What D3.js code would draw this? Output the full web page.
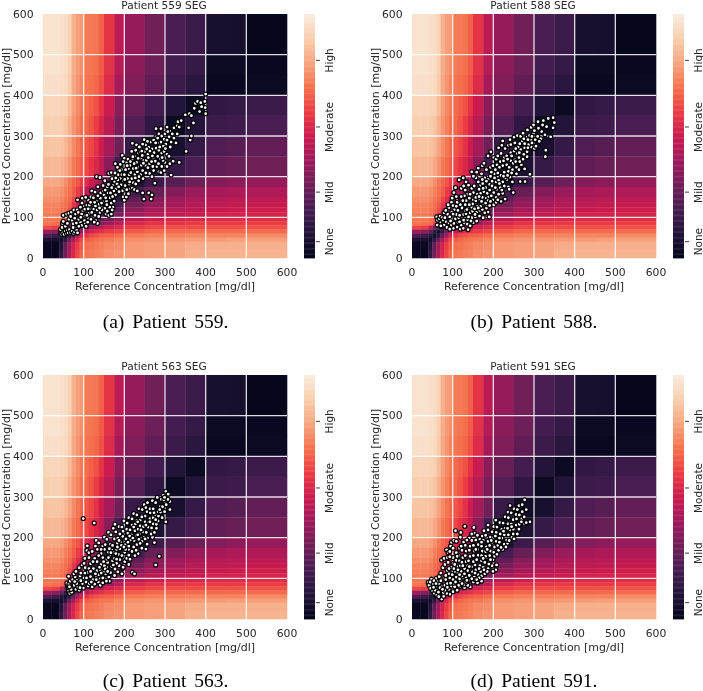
<!DOCTYPE html>
<html><head><meta charset="utf-8">
<script src="https://cdnjs.cloudflare.com/ajax/libs/d3/7.8.5/d3.min.js"></script>
<style>html,body{margin:0;padding:0;background:#fff}svg{display:block;filter:blur(.35px)}
text{font-family:"DejaVu Sans";fill:#262626}</style></head><body>
<svg id="c" width="703" height="691"></svg>
<script>
const edges=[0,20,40,50,60,70,80,90,100,112.5,125,137.5,150,175,200,250,300,350,400,450,500,600];
const risk=[ // rows top (500-600) to bottom (0-20)
[.97,.97,.96,.95,.92,.83,.79,.78,.72,.72,.71,.67,.58,.47,.38,.30,.21,.17,.07,.06,.01],
[.97,.97,.96,.95,.91,.82,.78,.76,.72,.71,.70,.66,.57,.45,.36,.29,.19,.15,.03,.03,.02],
[.96,.96,.95,.94,.90,.81,.77,.74,.71,.70,.68,.64,.55,.42,.33,.26,.17,.12,.02,.02,.03],
[.93,.93,.92,.91,.86,.79,.75,.72,.69,.67,.64,.58,.50,.36,.28,.19,.10,.03,.14,.15,.17],
[.91,.91,.90,.88,.83,.77,.73,.70,.68,.65,.60,.54,.46,.32,.23,.14,.03,.10,.17,.18,.21],
[.88,.88,.87,.85,.80,.75,.71,.68,.65,.62,.57,.50,.42,.30,.16,.05,.07,.15,.22,.24,.27],
[.85,.85,.84,.81,.77,.72,.69,.66,.62,.58,.54,.48,.36,.20,.05,.08,.15,.21,.26,.28,.30],
[.81,.81,.79,.76,.72,.68,.65,.60,.55,.50,.45,.38,.26,.08,.08,.17,.24,.29,.34,.36,.38],
[.78,.78,.76,.73,.70,.66,.60,.55,.48,.42,.35,.28,.10,.09,.20,.28,.34,.39,.42,.43,.44],
[.76,.76,.74,.71,.68,.62,.55,.48,.40,.30,.20,.10,.09,.14,.27,.35,.40,.43,.45,.46,.47],
[.74,.74,.72,.70,.66,.58,.50,.42,.30,.20,.10,.10,.13,.20,.31,.38,.42,.45,.47,.48,.49],
[.73,.73,.71,.69,.63,.54,.44,.34,.20,.10,.10,.14,.18,.26,.36,.42,.45,.47,.49,.50,.51],
[.72,.72,.70,.67,.60,.48,.36,.20,.10,.10,.15,.19,.24,.32,.42,.46,.48,.50,.52,.52,.53],
[.71,.71,.69,.66,.56,.40,.25,.09,.10,.15,.20,.25,.30,.38,.47,.51,.53,.54,.55,.55,.56],
[.71,.70,.68,.62,.50,.28,.09,.12,.18,.25,.30,.34,.40,.47,.54,.57,.58,.59,.59,.59,.60],
[.62,.60,.50,.35,.22,.08,.13,.24,.33,.39,.44,.47,.52,.55,.60,.62,.63,.63,.64,.64,.64],
[.40,.36,.25,.14,.06,.14,.29,.40,.47,.52,.55,.57,.60,.62,.66,.68,.68,.69,.69,.69,.69],
[.22,.18,.11,.05,.12,.27,.42,.52,.58,.62,.64,.66,.67,.69,.72,.73,.73,.74,.74,.74,.75],
[.08,.07,.05,.12,.28,.42,.54,.62,.66,.68,.70,.71,.72,.74,.76,.77,.77,.78,.78,.79,.79],
[.02,.02,.10,.27,.42,.52,.60,.66,.70,.71,.72,.73,.75,.76,.78,.79,.80,.82,.83,.83,.83],
[.02,.02,.13,.30,.44,.54,.62,.68,.71,.72,.73,.74,.76,.77,.78,.79,.80,.83,.84,.84,.84]];
const rocketStops=["#03051a","#23153a","#461d52","#711f57","#9e1a5b","#cb1b4f","#ec3c43","#f4704c","#f6a47f","#f8cdac","#faebdd"];
const ticks600=[0,100,200,300,400,500,600];
const barTicks=[0.067,0.27,0.537,0.81];
const barLabels=["None","Mild","Moderate","High"];
const titles=["Patient 559 SEG","Patient 588 SEG","Patient 563 SEG","Patient 591 SEG"];
const captions=["(a) Patient 559.","(b) Patient 588.","(c) Patient 563.","(d) Patient 591."];
const xLabel="Reference Concentration [mg/dl]", yLabel="Predicted Concentration [mg/dl]";

const pointsA=[[45,65],[44,60],[43,70],[47,75],[48,85],[50,90],[46,58],[49,62],[52,58],[55,66],[58,60],[60,68],[62,62],[65,70],[68,63],[72,66],[75,60],[78,64],[80,72],[83,68],[85,62],[50,105],[58,108],[64,110],[70,113],[76,118],[55,78],[60,85],[64,95],[68,102],[72,92],[74,84],[78,98],[80,108],[84,118],[87,112],[90,98],[92,88],[95,80],[88,78],[85,143],[92,125],[96,135],[98,115],[100,105],[102,92],[104,84],[106,78],[110,88],[112,98],[114,110],[116,122],[108,130],[112,142],[118,150],[122,135],[125,120],[128,105],[130,92],[134,85],[137,102],[140,112],[143,125],[146,140],[120,165],[128,162],[132,200],[140,198],[135,175],[142,160],[148,150],[150,138],[152,122],[155,108],[158,115],[162,105],[168,108],[148,178],[152,190],[158,175],[160,160],[165,148],[168,135],[172,125],[175,140],[178,155],[180,170],[176,188],[170,195],[162,208],[168,210],[178,232],[185,205],[190,195],[192,180],[195,165],[197,150],[200,142],[205,150],[210,158],[215,170],[220,172],[225,168],[232,165],[245,160],[248,145],[260,160],[268,155],[266,145],[185,215],[190,230],[195,252],[200,245],[205,235],[210,220],[212,205],[218,195],[222,185],[228,182],[235,190],[240,205],[245,215],[238,225],[230,235],[225,250],[218,262],[220,282],[230,278],[228,265],[235,258],[240,245],[248,240],[252,228],[258,222],[262,208],[268,200],[275,184],[272,215],[280,225],[285,212],[290,210],[298,215],[305,225],[315,204],[312,232],[320,238],[335,235],[300,235],[295,240],[288,245],[282,250],[275,258],[268,268],[260,272],[252,278],[245,280],[240,270],[250,262],[258,255],[265,248],[272,242],[278,270],[285,265],[292,258],[298,262],[305,255],[310,250],[278,298],[285,305],[290,318],[278,318],[292,300],[298,292],[302,280],[296,275],[288,282],[305,322],[312,312],[318,305],[322,320],[330,325],[332,335],[340,338],[350,352],[360,355],[352,262],[362,290],[365,300],[358,320],[370,332],[365,350],[315,285],[322,295],[330,305],[335,322],[310,298],[300,305],[372,368],[375,380],[380,385],[388,382],[398,385],[400,403],[399,370],[400,355],[385,360],[390,372],[124,148],[131,140],[138,132],[145,118],[103,120],[95,108],[118,95],[126,88],[114,130],[150,155],[156,140],[164,125],[170,118],[174,165],[182,182],[186,175],[194,205],[198,190],[202,178],[206,168],[212,182],[216,210],[222,220],[226,205],[232,212],[236,200],[242,228],[246,195],[254,240],[262,232],[270,225],[276,238],[284,232],[292,225],[74,75],[82,86],[88,95],[93,100],[108,105],[120,112],[133,118],[144,135],[154,148],[166,160],[172,178],[184,192],[200,205],[208,195],[214,228],[224,232],[234,245],[244,252],[255,268],[264,285],[272,290],[282,295],[290,285],[305,290],[117,137],[129,128],[141,147],[149,165],[157,131],[163,183],[171,151],[179,197],[187,163],[193,217],[201,193],[207,227],[213,187],[219,243],[227,197],[233,223],[239,261],[247,233],[253,209],[259,247],[267,237],[273,259],[281,283],[287,273],[293,247],[301,269],[307,311],[313,273],[327,283],[97,147],[105,149],[111,121],[127,137],[135,153],[139,123],[153,167],[161,181],[169,173],[177,209],[183,223],[189,215],[197,237],[203,217],[209,243],[215,237],[221,249],[229,221],[237,273],[243,263],[249,291],[257,287],[263,263],[269,251],[277,283]];

const pointsB=[[61,101],[62,81],[73,77],[63,93],[67,97],[71,87],[76,83],[79,81],[86,75],[93,71],[102,73],[111,76],[119,71],[126,73],[138,70],[69,103],[74,99],[77,93],[84,89],[91,86],[97,81],[103,85],[113,87],[121,81],[129,86],[136,83],[143,79],[151,87],[159,91],[79,111],[83,117],[88,107],[93,101],[99,94],[107,96],[115,99],[123,93],[131,97],[137,94],[147,99],[156,101],[166,103],[175,99],[190,101],[187,113],[91,124],[97,137],[101,129],[105,119],[109,107],[117,105],[127,107],[133,109],[143,111],[149,115],[159,113],[167,117],[173,119],[183,123],[99,147],[103,161],[109,151],[111,141],[119,131],[123,123],[131,117],[137,123],[147,125],[153,135],[161,127],[169,127],[177,133],[185,131],[191,129],[201,131],[207,137],[219,139],[229,145],[116,192],[126,197],[147,212],[121,171],[127,177],[131,167],[137,157],[141,147],[151,143],[157,141],[167,143],[173,149],[183,147],[189,151],[199,143],[207,149],[213,157],[223,159],[249,161],[133,187],[139,179],[147,171],[151,161],[161,157],[169,159],[177,163],[185,159],[191,167],[201,161],[209,169],[217,173],[227,177],[237,175],[247,187],[266,188],[278,188],[157,197],[163,187],[169,179],[174,183],[181,173],[191,181],[197,177],[207,187],[213,191],[223,187],[233,193],[241,199],[290,206],[151,201],[159,211],[163,221],[171,207],[179,197],[187,193],[193,201],[203,207],[211,209],[219,203],[227,211],[237,213],[247,217],[257,223],[269,229],[173,227],[177,233],[183,217],[193,223],[199,227],[209,229],[217,237],[223,227],[233,229],[243,239],[253,241],[263,247],[273,243],[283,249],[328,249],[329,265],[187,251],[194,261],[201,247],[207,243],[211,251],[219,257],[227,247],[233,251],[243,259],[251,263],[259,257],[267,267],[277,271],[283,261],[293,273],[301,269],[213,271],[221,277],[229,269],[237,277],[243,279],[253,283],[261,273],[271,287],[277,281],[287,279],[293,289],[303,291],[223,288],[241,291],[251,297],[259,301],[267,299],[273,307],[283,297],[289,301],[299,307],[309,299],[317,293],[284,315],[293,321],[301,313],[311,319],[319,311],[327,303],[341,298],[347,320],[350,333],[347,345],[335,343],[323,338],[310,335],[299,327],[321,327],[331,323],[111,137],[107,173],[129,153],[133,141],[149,133],[154,121],[171,139],[179,111],[187,141],[193,139],[211,143],[221,167],[239,169],[257,207],[263,217],[277,219],[113,117],[121,151],[131,131],[143,157],[153,177],[165,169],[173,193],[197,189],[203,197],[229,197],[239,223],[249,233],[264,259],[81,99],[89,131],[98,113],[95,91],[71,79],[101,108],[117,89],[127,93],[139,101],[145,91],[155,107],[163,123],[181,135],[195,153],[205,173],[215,183],[225,201],[235,203],[245,209],[255,237],[265,237],[275,255],[285,271],[295,283],[305,275],[313,287],[109,127],[125,141],[135,119],[141,131],[157,149],[165,151],[175,171],[183,189],[195,211],[205,217],[215,223],[225,239],[235,243],[245,251],[255,269],[265,281],[275,293],[285,291],[295,299]];

const pointsC=[[99,247],[126,236],[302,314],[308,307],[312,289],[312,269],[302,239],[274,188],[286,154],[277,133],[220,115],[225,111],[234,161],[253,172],[109,180],[108,168],[63,105],[60,82],[63,70],[75,70],[99,76],[162,103],[163,93],[196,125],[62,77],[59,88],[66,63],[71,66],[64,86],[67,93],[72,79],[77,83],[81,73],[86,79],[89,71],[93,85],[97,87],[73,97],[79,103],[83,95],[91,106],[76,111],[81,117],[89,126],[93,113],[101,101],[106,91],[111,81],[114,87],[121,79],[127,86],[136,91],[141,83],[147,89],[156,93],[96,133],[101,137],[104,126],[109,114],[117,104],[123,97],[131,103],[137,109],[147,101],[154,111],[166,114],[176,107],[184,116],[194,111],[103,149],[113,151],[117,136],[124,124],[133,119],[141,121],[149,117],[157,126],[169,129],[177,123],[187,131],[113,163],[121,166],[127,149],[133,141],[143,134],[151,131],[159,139],[171,143],[181,137],[189,146],[201,141],[211,134],[129,179],[134,171],[143,161],[147,151],[157,147],[164,156],[176,149],[186,159],[194,156],[206,149],[214,147],[226,156],[131,193],[137,187],[147,179],[151,171],[161,164],[169,169],[181,171],[189,173],[201,164],[211,171],[219,166],[151,201],[157,196],[166,184],[171,181],[183,186],[191,189],[203,183],[211,179],[223,177],[231,183],[243,174],[161,213],[167,207],[176,197],[184,199],[196,203],[204,197],[216,194],[224,193],[236,196],[244,191],[256,184],[173,223],[179,214],[189,209],[197,216],[209,211],[217,207],[229,206],[237,209],[249,201],[257,199],[269,201],[177,233],[187,227],[194,226],[206,221],[214,219],[226,217],[234,221],[246,214],[254,213],[266,209],[274,213],[199,241],[207,236],[219,231],[227,233],[239,229],[247,227],[259,226],[267,221],[279,223],[211,249],[219,246],[231,243],[239,243],[251,239],[259,237],[271,234],[279,233],[223,259],[231,256],[243,254],[251,253],[263,247],[271,249],[283,241],[236,271],[244,269],[256,264],[264,261],[276,257],[284,253],[293,249],[249,281],[257,286],[263,271],[271,271],[283,264],[289,263],[299,264],[269,291],[277,286],[289,277],[294,276],[303,281],[281,299],[291,294],[297,293],[307,294],[296,304],[299,299],[87,91],[93,94],[103,113],[113,124],[123,141],[137,156],[143,171],[153,183],[163,173],[173,163],[183,177],[193,181],[203,171],[213,204],[223,226],[233,239],[243,251],[253,274],[119,91],[131,97],[143,113],[153,123],[159,117],[173,133],[181,147],[197,127],[211,157],[229,169],[239,186],[251,197],[267,224],[277,244],[69,73],[65,79],[83,87],[78,92],[91,77],[107,101],[117,117],[129,111],[139,127],[149,141],[161,151],[167,163],[179,161],[187,193],[199,177],[209,189],[221,199],[233,207],[241,219],[253,231],[263,239],[273,261],[287,269]];

const pointsD=[[277,293],[290,239],[270,246],[130,228],[107,217],[120,213],[152,225],[208,133],[206,121],[171,93],[143,79],[93,61],[73,49],[40,90],[48,98],[60,100],[73,145],[85,170],[97,188],[241,279],[42,83],[46,75],[51,69],[55,63],[61,59],[66,55],[78,56],[85,63],[45,91],[53,86],[57,79],[63,71],[71,67],[77,65],[81,71],[91,73],[101,67],[109,73],[117,79],[129,77],[137,83],[54,94],[63,91],[67,86],[73,81],[81,83],[87,87],[97,81],[103,87],[113,89],[119,93],[131,89],[139,95],[151,91],[161,89],[67,104],[71,113],[79,99],[83,97],[93,101],[101,97],[109,103],[117,99],[123,106],[133,101],[141,107],[153,103],[163,109],[171,106],[76,126],[81,134],[87,119],[91,111],[99,109],[107,116],[113,113],[121,117],[131,114],[137,119],[149,116],[157,121],[169,117],[179,111],[79,149],[87,151],[89,139],[97,127],[103,124],[113,129],[119,131],[129,124],[137,131],[147,129],[155,133],[167,131],[175,127],[187,124],[197,131],[89,163],[93,166],[101,151],[109,144],[117,143],[123,139],[133,141],[139,143],[151,141],[159,146],[171,143],[179,139],[191,141],[199,146],[95,179],[101,174],[109,163],[115,156],[125,151],[131,156],[143,154],[151,156],[163,157],[171,156],[183,151],[191,156],[103,193],[109,191],[117,174],[123,169],[133,167],[141,169],[153,167],[161,171],[173,167],[181,166],[193,167],[201,164],[119,201],[127,189],[131,181],[143,179],[151,181],[163,183],[171,179],[183,177],[191,181],[203,177],[211,181],[141,199],[147,193],[157,194],[167,196],[175,193],[187,191],[197,189],[207,191],[215,189],[227,184],[235,186],[153,211],[161,206],[173,204],[181,206],[193,201],[201,201],[213,199],[221,199],[233,194],[246,201],[177,217],[187,219],[197,214],[207,213],[217,209],[227,207],[237,207],[249,209],[259,209],[187,231],[201,227],[209,226],[221,221],[229,223],[241,219],[249,221],[263,221],[206,243],[216,237],[224,236],[236,234],[244,233],[256,231],[264,233],[276,235],[229,251],[237,249],[249,244],[257,246],[269,239],[281,237],[236,263],[244,261],[256,257],[264,256],[276,251],[251,271],[259,269],[271,264],[281,269],[263,279],[271,281],[101,136],[111,154],[121,179],[135,194],[147,209],[157,171],[171,189],[181,154],[193,146],[203,154],[213,169],[223,171],[107,91],[117,109],[129,111],[155,97],[165,101],[185,117],[199,117],[239,193],[251,197],[71,94],[83,107],[91,124],[59,87],[69,77],[111,71],[127,84],[57,71],[53,78],[65,66],[75,73],[87,78],[95,88],[105,79],[115,83],[123,87],[135,95],[147,99],[159,97],[177,121],[189,135],[209,159],[219,176],[231,177],[93,153],[105,134],[113,121],[125,131],[141,129],[155,113],[165,124],[175,149],[185,171],[195,193],[205,204],[215,199],[225,216],[235,223],[245,227]];
const allPoints=[pointsA,pointsB,pointsC,pointsD];

const panelX=[43,412], panelY=[14,375], size=244;
const rocket=d3.scaleLinear().domain(d3.range(11).map(i=>i/10)).range(rocketStops).interpolate(d3.interpolateRgb);
const svg=d3.select("#c");
allPoints.forEach((pts,i)=>{
  const px=panelX[i%2],py=panelY[Math.floor(i/2)];
  const g=svg.append("g").attr("transform",`translate(${px},${py})`);
  const x=d3.scaleLinear().domain([0,600]).range([0,size]);
  const y=d3.scaleLinear().domain([0,600]).range([size,0]);
  risk.forEach((row,r)=>{
    const hi=edges[edges.length-1-r], lo=edges[edges.length-2-r];
    row.forEach((v,c)=>{
      g.append("rect").attr("x",x(edges[c])).attr("y",y(hi))
       .attr("width",x(edges[c+1])-x(edges[c])+.3).attr("height",y(lo)-y(hi)+.3)
       .attr("fill",rocket(v));
    });
  });
  ticks600.slice(1,-1).forEach(t=>{
    g.append("line").attr("x1",x(t)).attr("x2",x(t)).attr("y1",0).attr("y2",size).attr("stroke","#fff").attr("stroke-opacity",.85).attr("stroke-width",1.3);
    g.append("line").attr("y1",y(t)).attr("y2",y(t)).attr("x1",0).attr("x2",size).attr("stroke","#fff").attr("stroke-opacity",.85).attr("stroke-width",1.3);
  });
  g.selectAll("circle").data(pts).join("circle").attr("cx",d=>x(d[0])).attr("cy",d=>y(d[1]))
   .attr("r",2.0).attr("fill","#fff").attr("stroke","#000").attr("stroke-width",1.2);
  ticks600.forEach(t=>{
    g.append("text").attr("x",x(t)).attr("y",size+18).attr("text-anchor","middle").attr("font-size",10.8).text(t);
    g.append("text").attr("x",-9.5).attr("y",y(t)+3.8).attr("text-anchor","end").attr("font-size",10.8).text(t);
  });
  g.append("text").attr("x",size/2).attr("y",size+32).attr("text-anchor","middle").attr("font-size",11).text(xLabel);
  g.append("text").attr("transform",`translate(-33,${size/2}) rotate(-90)`).attr("text-anchor","middle").attr("font-size",11).text(yLabel);
  g.append("text").attr("x",size/2-1).attr("y",-4.8).attr("text-anchor","middle").attr("font-size",10.6).text(titles[i]);
  const bar=g.append("g").attr("transform",`translate(${size+17},0)`);
  const n=200, cy=d3.scaleLinear().domain([0,1]).range([size,0]);
  d3.range(n).forEach(k=>{
    bar.append("rect").attr("x",0).attr("width",11).attr("y",cy((k+1)/n)).attr("height",size/n+.4).attr("fill",rocket(k/(n-1)));
  });
  barTicks.forEach((t,k)=>{
    bar.append("line").attr("x1",12).attr("x2",16).attr("y1",cy(t)).attr("y2",cy(t)).attr("stroke","#262626").attr("stroke-width",.9);
    bar.append("text").attr("transform",`translate(29,${cy(t)}) rotate(-90)`).attr("text-anchor","middle").attr("font-size",10.5).text(barLabels[k]);
  });
  svg.append("text").attr("x",px+size/2+.5-(i%2?.5:0)).attr("y",py+size+(i<2?69.5:67.5))
    .attr("text-anchor","middle").attr("style","font-family:'Liberation Serif';fill:#000;word-spacing:3px").attr("font-size",19.5).text(captions[i]);
});
</script></body></html>
